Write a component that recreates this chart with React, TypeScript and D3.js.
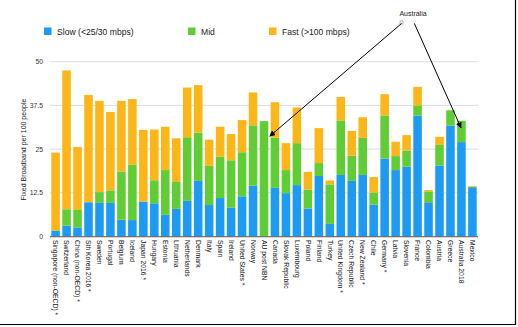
import React from "react";
import * as d3 from "d3";

const countries = [
  "Singapore (non-OECD) *", "Switzerland", "China (non-OECD) *", "Sth Korea 2016 *", "Sweden",
  "Portugal", "Belgium", "Iceland", "Japan 2016 *", "Hungary", "Estonia", "Lithuania",
  "Netherlands", "Denmark", "Italy", "Spain", "Ireland", "United States *", "Norway",
  "AU post NBN", "Canada", "Slovak Republic", "Luxembourg", "Poland", "Finland", "Turkey",
  "United Kingdom *", "Czech Republic", "New Zealand *", "Chile", "Germany *", "Latvia",
  "Slovenia", "France", "Colombia", "Austria", "Greece", "Australia 2018", "Mexico",
];
const slow = [1.7, 3.1, 2.6, 9.8, 9.6, 9.6, 4.8, 4.7, 10, 9.5, 6.2, 7.9, 10.2, 15.9, 9, 11, 8.2, 11.5, 14.5,
  0, 13.9, 12.4, 14.7, 8, 17.3, 3.6, 17.6, 15.9, 17.6, 9.1, 22.3, 19, 20, 34.6, 9.8, 20.3, 31.7, 27, 14.1];
const mid = [0, 4.7, 5, 0, 3.1, 3.6, 13.8, 15.8, 0, 6.6, 12.8, 7.7, 18.2, 13.8, 11.2, 11.8, 13.6, 12.6, 17.3,
  33, 14.4, 6.6, 12, 5.4, 3.7, 11.3, 15.6, 7.2, 10.6, 3.5, 12.3, 4, 4.6, 2.9, 3.1, 5.9, 4.4, 6.1, 0.15];
const fast = [22.3, 39.7, 18, 30.7, 26.1, 22.4, 20.2, 18.8, 20.5, 14.5, 12.4, 12.5, 14.2, 13.6, 7.5, 8.6, 7.5, 9.2, 9.4,
  0, 10.1, 7.7, 10.2, 5.1, 10, 1.1, 6.7, 7.1, 5.9, 4.4, 6.1, 4.1, 4.4, 5.3, 0.4, 2.3, 0, 0, 0.2];
const yTicks = [0, 12.5, 25, 37.5, 50];
const seriesNames = ["Slow (<25/30 mbps)", "Mid", "Fast (>100 mbps)"];
const colors = ["#1d9bf3", "#60cd34", "#fcb617"];

const W = 518, H = 327;
const font = "'Liberation Sans', Arial, Helvetica, sans-serif";

export default function App() {
  const x = d3.scaleBand<string>().domain(countries).range([50, 478]).paddingInner(0.22).paddingOuter(0.12);
  const y = d3.scaleLinear().domain([0, 50]).range([236.5, 61.7]);
  const rows = countries.map((c, i) => ({ c, slow: slow[i], mid: mid[i], fast: fast[i] }));
  const stack = d3.stack<any>().keys(["slow", "mid", "fast"])(rows);
  const bw = x.bandwidth();

  const legendX = [44, 188, 269];

  const nbnTip = { x: (x("AU post NBN") as number) + bw + 1.5, y: y(28.7) };
  const ausTip = { x: (x("Australia 2018") as number) + bw * 0.45, y: y(31.1) };

  return (
    <svg width={W} height={H} style={{ position: "absolute", left: 0, top: 0, background: "#fff" }} fontFamily={font}>
      <defs>
        <marker id="arr" viewBox="0 0 10 10" refX="9" refY="5" markerWidth="6" markerHeight="6" orient="auto-start-reverse" markerUnits="userSpaceOnUse">
          <path d="M0,0 L10,5 L0,10 z" fill="#000" />
        </marker>
      </defs>
      {/* legend */}
      {seriesNames.map((n, i) => (
        <g key={n}>
          <rect x={legendX[i]} y={27.5} width={7.5} height={7.5} fill={colors[i]} />
          <text x={legendX[i] + 13} y={34.5} fontSize={8.6} fill="#222">{n}</text>
        </g>
      ))}
      {/* gridlines */}
      {yTicks.map((t) => (
        <g key={t}>
          {t > 0 && <line x1={50} x2={478} y1={y(t)} y2={y(t)} stroke="#d4d4d4" strokeWidth={0.8} />}
          <text x={43} y={y(t) + 2.5} textAnchor="end" fontSize={6.8} fill="#333">{t}</text>
        </g>
      ))}
      <text transform={`translate(25.5,${y(25) + 0.5}) rotate(-90)`} textAnchor="middle" fontSize={7} fill="#222">
        Fixed Broadband per 100 people
      </text>
      {/* bars */}
      {stack.map((s, si) => (
        <g key={si} fill={colors[si]}>
          {s.map((d, i) => {
            const h = y(d[0]) - y(d[1]);
            if (h <= 0) return null;
            return <rect key={i} x={x(countries[i])} y={y(d[1])} width={bw} height={h} />;
          })}
        </g>
      ))}
      <line x1={50} x2={478} y1={y(0) + 0.3} y2={y(0) + 0.3} stroke="#555" strokeWidth={1.1} />
      {/* x labels */}
      {countries.map((c) => (
        <text key={c} transform={`translate(${(x(c) as number) + bw / 2 - 2.3},240) rotate(90)`} fontSize={6.8} fill="#111">{c}</text>
      ))}
      {/* annotation */}
      <text x={413} y={16} textAnchor="middle" fontSize={7} fill="#222">Australia</text>
      <rect x={400} y={21} width={3} height={3} fill="#fff" stroke="#888" strokeWidth={0.6} />
      <line x1={401.5} y1={23.5} x2={nbnTip.x} y2={nbnTip.y} stroke="#000" strokeWidth={1} markerEnd="url(#arr)" />
      <line x1={414.3} y1={23.3} x2={ausTip.x} y2={ausTip.y} stroke="#000" strokeWidth={1} markerEnd="url(#arr)" />
      {/* frame */}
      <line x1={515.5} x2={515.5} y1={0} y2={325} stroke="#000" strokeWidth={1.2} />
      <line x1={0} x2={516} y1={324.5} y2={324.5} stroke="#000" strokeWidth={1.2} />
    </svg>
  );
}
